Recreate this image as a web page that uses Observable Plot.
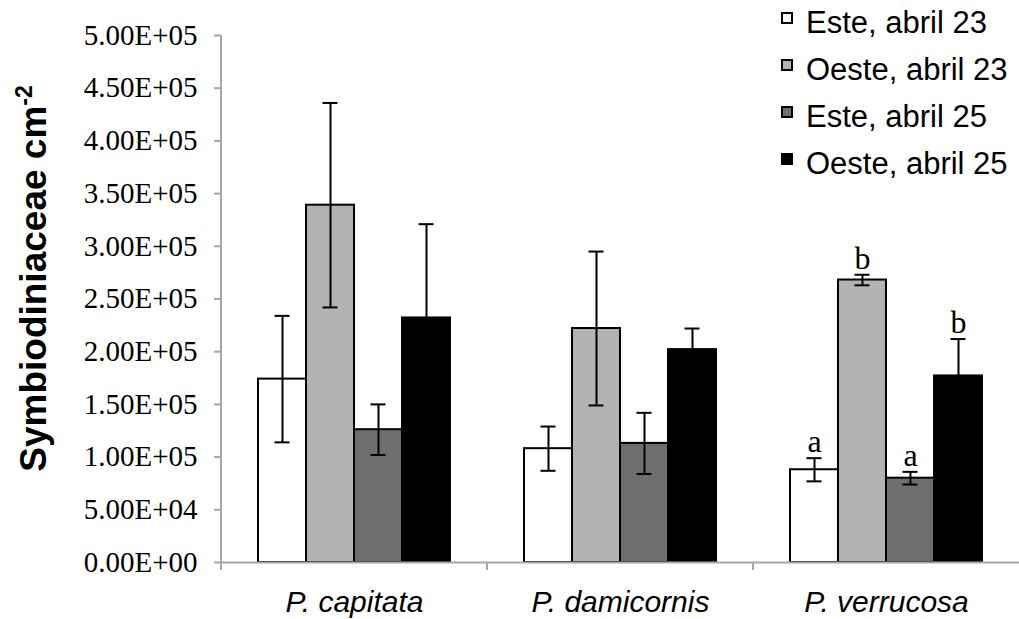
<!DOCTYPE html>
<html><head><meta charset="utf-8">
<script src="https://cdn.jsdelivr.net/npm/d3@7"></script>
<script src="https://cdn.jsdelivr.net/npm/@observablehq/plot@0.6"></script>
<style>
html,body{margin:0;padding:0;background:#fff;overflow:hidden}
#wrap{position:relative;width:1019px;height:619px}
#wrap svg{position:absolute;left:0;top:0}
#legend{position:absolute;left:781px;top:0;width:238px;height:200px;font-family:"Liberation Sans",Arial,sans-serif;font-size:31px;color:#000}
.item{position:absolute;left:0;white-space:nowrap}
.sw{position:absolute;left:0;width:8px;height:8px;border:2px solid #000}
.lab{position:absolute;left:25px;line-height:1;white-space:nowrap}
</style></head>
<body><div id="wrap"><div id="legend"></div></div>
<script>
const species = ["P. capitata", "P. damicornis", "P. verrucosa"];
const series = ["Este, abril 23", "Oeste, abril 23", "Este, abril 25", "Oeste, abril 25"];
const colors = ["#ffffff", "#b3b3b3", "#6e6e6e", "#000000"];
const este23 = [174000, 108000, 88000];
const este23Err = [60000, 21000, 11000];
const oeste23 = [339000, 222000, 268000];
const oeste23Err = [97000, 73000, 5000];
const este25 = [126000, 113000, 80000];
const este25Err = [24000, 29000, 6000];
const oeste25 = [232000, 202000, 177000];
const oeste25Err = [89000, 20000, 35000];
const capitataLetters = ["", "", "", ""];
const damicornisLetters = ["", "", "", ""];
const verrucosaLetters = ["a", "b", "a", "b"];
const yTicks = d3.range(0, 500001, 50000);
const yTitle = "Symbiodiniaceae cm";
const yTitleSup = "-2";

const values = [este23, oeste23, este25, oeste25];
const errs = [este23Err, oeste23Err, este25Err, oeste25Err];
const letters = [capitataLetters, damicornisLetters, verrucosaLetters];
const rows = [];
species.forEach((sp, i) => series.forEach((se, j) => rows.push({
  species: sp, series: se, value: values[j][i], err: errs[j][i], letter: letters[i][j]
})));

const fmt = d => {
  const [m, e] = d.toExponential(2).split("e");
  return `${m}E${e[0]}${e.slice(1).padStart(2, "0")}`;
};

const plot = Plot.plot({
  width: 1019, height: 619,
  marginLeft: 221, marginRight: 0, marginTop: 35, marginBottom: 57,
  fx: {domain: species, padding: 0, label: null},
  x: {domain: series, paddingInner: 0, paddingOuter: 0.77, axis: null},
  y: {domain: [0, 500000]},
  color: {domain: series, range: colors},
  style: {background: "#fff", overflow: "visible"},
  marks: [
    Plot.barY(rows, {fx: "species", x: "series", y: "value", fill: "series", stroke: "#000", strokeWidth: 2}),
    Plot.ruleY([0], {stroke: "#a6a6a6", strokeWidth: 2}),
    Plot.ruleX(rows, {fx: "species", x: "series", y1: d => d.value - d.err, y2: d => d.value + d.err, stroke: "#000", strokeWidth: 2}),
    Plot.tickY(rows, {fx: "species", x: "series", y: d => d.value + d.err, insetLeft: 16.5, insetRight: 16.5, stroke: "#000", strokeWidth: 2}),
    Plot.tickY(rows, {fx: "species", x: "series", y: d => d.value - d.err, insetLeft: 16.5, insetRight: 16.5, stroke: "#000", strokeWidth: 2}),
    Plot.text(rows.filter(d => d.letter), {fx: "species", x: "series", y: d => d.value + d.err, text: "letter", lineAnchor: "bottom", dy: -6, fontFamily: "Liberation Serif", fontSize: 32, fill: "#000"}),
    Plot.axisY({ticks: yTicks, tickFormat: fmt, tickSize: 7, tickPadding: 17, stroke: "#a6a6a6", strokeWidth: 2, fill: "#000", fontFamily: "Liberation Serif", fontSize: 29, label: null}),
    Plot.axisFx({anchor: "bottom", tickSize: 0, tickPadding: 28, fontSize: 30, fontStyle: "italic", fontFamily: "Liberation Sans", fill: "#000", label: null})
  ]
});

const wrap = document.getElementById("wrap");
wrap.insertBefore(plot, wrap.firstChild);

const svg = d3.select(plot);
const fxS = plot.scale("fx");
const yS = plot.scale("y");
const x0 = 221;
const yBase = yS.apply(0);
const yTop = yS.apply(500000);
svg.append("line").attr("x1", x0).attr("x2", x0).attr("y1", yTop).attr("y2", yBase + 8)
  .attr("stroke", "#a6a6a6").attr("stroke-width", 2);
species.slice(1).forEach(sp => {
  const xx = fxS.apply(sp);
  svg.append("line").attr("x1", xx).attr("x2", xx).attr("y1", yBase).attr("y2", yBase + 8)
    .attr("stroke", "#a6a6a6").attr("stroke-width", 2);
});
const t = svg.append("text")
  .attr("transform", `translate(46,${(yTop + yBase) / 2 - 20}) rotate(-90)`)
  .attr("text-anchor", "middle")
  .attr("font-family", "Liberation Sans, Arial, sans-serif")
  .attr("font-weight", "bold").attr("font-size", 37).attr("fill", "#000");
t.append("tspan").text(yTitle);
t.append("tspan").attr("dy", -14).attr("font-size", 23).text(yTitleSup);

const legend = document.getElementById("legend");
series.forEach((s, i) => {
  const base = 33 + i * 47;
  const item = document.createElement("div");
  item.className = "item";
  const sw = document.createElement("div");
  sw.className = "sw";
  sw.style.top = (base - 21) + "px";
  sw.style.background = colors[i];
  const lab = document.createElement("div");
  lab.className = "lab";
  lab.style.top = (base - 26) + "px";
  lab.textContent = s;
  item.appendChild(sw); item.appendChild(lab);
  legend.appendChild(item);
});
</script>
</body></html>
